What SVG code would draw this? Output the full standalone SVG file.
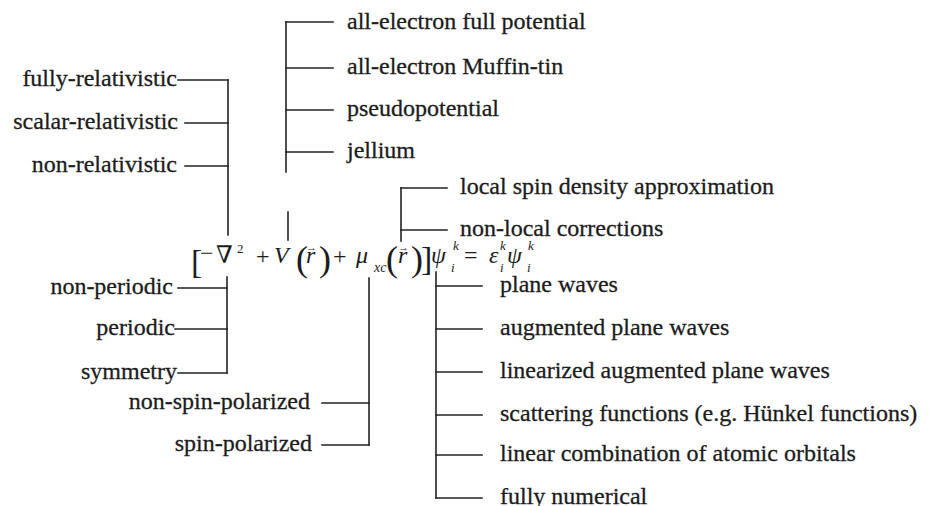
<svg xmlns="http://www.w3.org/2000/svg" width="930" height="506" viewBox="0 0 930 506">
<style>
.t{font-family:"Liberation Serif","DejaVu Serif",serif;font-size:24px;fill:#1c1c1c;stroke:#1c1c1c;stroke-width:0.3}
.e{text-anchor:end}
.m{font-family:"Liberation Serif","DejaVu Serif",serif;fill:#1c1c1c;font-size:24px}
.i{font-style:italic}
.s{font-size:13px;font-style:italic}
.p{font-size:36px}
.c line{stroke:#222;stroke-width:1.6;stroke-linecap:square}
</style>
<rect width="930" height="506" fill="#fff"/>
<g class="c" id="connectors">
<line x1="178" y1="80" x2="228" y2="80"/>
<line x1="185" y1="123" x2="228" y2="123"/>
<line x1="185" y1="166" x2="228" y2="166"/>
<line x1="228" y1="80" x2="228" y2="235"/>
<line x1="286" y1="22" x2="286" y2="172"/>
<line x1="286" y1="22" x2="333" y2="22"/>
<line x1="286" y1="68" x2="333" y2="68"/>
<line x1="286" y1="110" x2="333" y2="110"/>
<line x1="286" y1="152" x2="333" y2="152"/>
<line x1="288" y1="212" x2="288" y2="240"/>
<line x1="401" y1="188" x2="401" y2="241"/>
<line x1="401" y1="188" x2="447" y2="188"/>
<line x1="401" y1="230" x2="447" y2="230"/>
<line x1="227" y1="277" x2="227" y2="373"/>
<line x1="178" y1="288" x2="227" y2="288"/>
<line x1="175" y1="329" x2="227" y2="329"/>
<line x1="178" y1="373" x2="227" y2="373"/>
<line x1="369" y1="278" x2="369" y2="445"/>
<line x1="322" y1="403" x2="369" y2="403"/>
<line x1="322" y1="445" x2="369" y2="445"/>
<line x1="436" y1="272" x2="436" y2="498"/>
<line x1="436" y1="286" x2="482" y2="286"/>
<line x1="436" y1="329" x2="482" y2="329"/>
<line x1="436" y1="372" x2="482" y2="372"/>
<line x1="436" y1="415" x2="482" y2="415"/>
<line x1="436" y1="455" x2="482" y2="455"/>
<line x1="436" y1="498" x2="482" y2="498"/>
</g>
<g id="equation">
<text class="m"><tspan x="191" y="273" font-size="34">[</tspan><tspan x="200" y="261">−</tspan><tspan x="216" y="263">∇</tspan><tspan x="237" y="253" font-size="13">2</tspan><tspan x="256" y="264">+</tspan><tspan x="274" y="263" class="i">V</tspan><tspan x="296" y="271" class="p">(</tspan><tspan x="306" y="263" class="i">r</tspan><tspan x="306" y="251" font-size="11">→</tspan><tspan x="319" y="271" class="p">)</tspan><tspan x="333" y="264">+</tspan><tspan x="356" y="263" class="i">μ</tspan><tspan x="374" y="272" font-size="14" font-style="italic">xc</tspan><tspan x="386" y="271" class="p">(</tspan><tspan x="398" y="263" class="i">r</tspan><tspan x="398" y="251" font-size="11">→</tspan><tspan x="411" y="271" class="p">)</tspan><tspan x="421" y="270" font-size="34">]</tspan><tspan x="431" y="263" class="i">ψ</tspan><tspan x="453" y="250" class="s">k</tspan><tspan x="451" y="272" class="s">i</tspan><tspan x="464" y="263">=</tspan><tspan x="489" y="263" class="i">ε</tspan><tspan x="500" y="250" class="s">k</tspan><tspan x="500" y="272" class="s">i</tspan><tspan x="507" y="263" class="i">ψ</tspan><tspan x="527" y="272" class="s">i</tspan><tspan x="528" y="250" class="s">k</tspan></text>
</g>
<g id="fully-relativistic"><text class="t e" x="177" y="86">fully-relativistic</text></g>
<g id="scalar-relativistic"><text class="t e" x="178" y="129">scalar-relativistic</text></g>
<g id="non-relativistic"><text class="t e" x="177" y="172">non-relativistic</text></g>
<g id="all-electron-full-potential"><text class="t" x="347" y="29">all-electron full potential</text></g>
<g id="all-electron-muffin-tin"><text class="t" x="347" y="74">all-electron Muffin-tin</text></g>
<g id="pseudopotential"><text class="t" x="347" y="116">pseudopotential</text></g>
<g id="jellium"><text class="t" x="347" y="158">jellium</text></g>
<g id="lsda"><text class="t" x="460" y="194">local spin density approximation</text></g>
<g id="non-local-corrections"><text class="t" x="460" y="236">non-local corrections</text></g>
<g id="non-periodic"><text class="t e" x="173" y="294">non-periodic</text></g>
<g id="periodic"><text class="t e" x="175" y="335">periodic</text></g>
<g id="symmetry"><text class="t e" x="177" y="379">symmetry</text></g>
<g id="non-spin-polarized"><text class="t e" x="310" y="409">non-spin-polarized</text></g>
<g id="spin-polarized"><text class="t e" x="312" y="451">spin-polarized</text></g>
<g id="plane-waves"><text class="t" x="500" y="292">plane waves</text></g>
<g id="augmented-plane-waves"><text class="t" x="500" y="335">augmented plane waves</text></g>
<g id="lapw"><text class="t" x="500" y="378">linearized augmented plane waves</text></g>
<g id="scattering-functions"><text class="t" x="500" y="421">scattering functions (e.g. Hünkel functions)</text></g>
<g id="lcao"><text class="t" x="500" y="461">linear combination of atomic orbitals</text></g>
<g id="fully-numerical"><text class="t" x="500" y="504">fully numerical</text></g>
</svg>
